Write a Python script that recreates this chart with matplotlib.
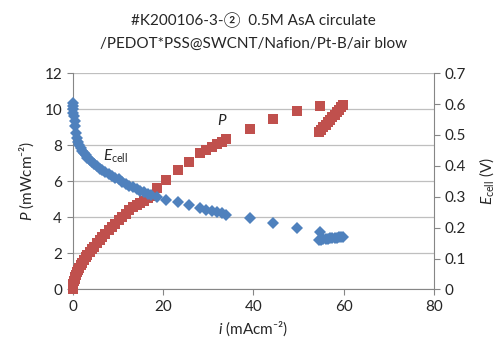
import matplotlib
matplotlib.use("Agg")
import matplotlib.pyplot as plt

plt.rcParams['font.family'] = ['Lato', 'Noto Sans CJK JP', 'DejaVu Sans']
plt.rcParams['mathtext.fontset'] = 'custom'
plt.rcParams['mathtext.rm'] = 'Lato'
plt.rcParams['mathtext.it'] = 'Lato:italic'

# current density (mA cm-2)
i_vals = [0, 0.05, 0.1, 0.2, 0.3, 0.45, 0.6, 0.8, 1.0, 1.25, 1.5, 1.8, 2.1, 2.5,
          2.9, 3.3, 3.8, 4.3, 4.8, 5.4, 6.0, 6.6, 7.3, 8.0, 8.7, 9.4, 10.2, 11.0,
          11.8, 12.6, 13.4, 14.2, 15.0, 15.8, 16.6, 17.4, 18.6, 20.8, 23.4, 25.8,
          28.2, 29.6, 30.8, 31.9, 33.0, 33.9, 39.3, 44.4, 49.7, 54.7,
          54.5, 55.0, 55.5, 56.0, 56.5, 57.0, 57.5, 58.0, 58.5, 59.0, 59.5, 59.8]
# cell voltage (V)
e_cell = [0.605, 0.595, 0.585, 0.572, 0.56, 0.545, 0.53, 0.508, 0.49, 0.477, 0.467,
          0.457, 0.449, 0.441, 0.434, 0.427, 0.419, 0.412, 0.405, 0.398, 0.391,
          0.385, 0.379, 0.373, 0.367, 0.362, 0.356, 0.349, 0.342, 0.336, 0.330,
          0.324, 0.319, 0.314, 0.309, 0.305, 0.300, 0.289, 0.284, 0.273, 0.262,
          0.257, 0.254, 0.251, 0.246, 0.240, 0.230, 0.214, 0.200, 0.187,
          0.160, 0.161, 0.162, 0.163, 0.164, 0.165, 0.166, 0.167, 0.168, 0.169,
          0.170, 0.171]
# power density (mW cm-2)
power = [0.0, 0.1, 0.2, 0.32, 0.44, 0.58, 0.7, 0.82, 0.95, 1.07, 1.2, 1.35, 1.48,
         1.63, 1.78, 1.92, 2.07, 2.22, 2.37, 2.55, 2.72, 2.9, 3.1, 3.28, 3.47,
         3.65, 3.85, 4.03, 4.2, 4.38, 4.55, 4.7, 4.82, 4.93, 5.05, 5.2, 5.61,
         6.07, 6.63, 7.09, 7.56, 7.74, 7.92, 8.07, 8.2, 8.33, 8.9, 9.48, 9.9,
         10.18, 8.72, 8.86, 8.99, 9.13, 9.27, 9.41, 9.55, 9.69, 9.83, 9.97,
         10.12, 10.23]

red = '#C0504D'
blue = '#4F81BD'
grid_c = '#BFBFBF'
spine_c = '#868686'
txt_c = '#262626'
fs = 11

fig = plt.figure(figsize=(5.0, 3.47), dpi=100)
ax = fig.add_axes([0.145, 0.166, 0.723, 0.623])

ax.plot(i_vals, power, 's', color=red, markersize=7.8, markeredgewidth=0,
        zorder=3, clip_on=False)
ax.set_xlim(0, 80)
ax.set_ylim(0, 12)
ax.set_xticks([0, 20, 40, 60, 80])
ax.set_yticks(range(0, 13, 2))
ax.grid(axis='y', color=grid_c, linewidth=0.9)
ax.set_axisbelow(True)
for s in ['top', 'right']:
    ax.spines[s].set_visible(False)
for s in ['left', 'bottom']:
    ax.spines[s].set_color(spine_c)
ax.tick_params(colors=spine_c, labelcolor=txt_c, labelsize=fs, length=4, direction='out')
ax.set_ylabel('$\\mathit{P}$ (mWcm\u207b\u00b2)', fontsize=fs, color=txt_c, labelpad=6)
ax.set_xlabel('$\\mathit{i}$ (mAcm\u207b\u00b2)', fontsize=fs, color=txt_c, labelpad=4)

ax2 = ax.twinx()
ax2.plot(i_vals, e_cell, 'D', color=blue, markersize=6.1, markeredgewidth=0,
         zorder=3, clip_on=False)
ax2.set_ylim(0, 0.7)
ax2.set_yticks([0, 0.1, 0.2, 0.3, 0.4, 0.5, 0.6, 0.7])
ax2.set_yticklabels(['0', '0.1', '0.2', '0.3', '0.4', '0.5', '0.6', '0.7'])
for s in ['top', 'left', 'bottom']:
    ax2.spines[s].set_visible(False)
ax2.spines['right'].set_color(spine_c)
ax2.tick_params(colors=spine_c, labelcolor=txt_c, labelsize=fs, length=4, direction='out')
ax2.set_ylabel(r'$\mathit{E}_{\mathrm{cell}}$ (V)', fontsize=fs, color=txt_c, labelpad=8)

ax.text(9.6, 7.4, r'$\mathit{E}_{\mathrm{cell}}$', fontsize=fs, color=txt_c,
        ha='center', va='center', zorder=5)
ax.text(33.2, 9.4, r'$\mathit{P}$', fontsize=fs, color=txt_c,
        ha='center', va='center', zorder=5)

fig.text(0.507, 0.94, '#K200106-3-\u2461  0.5M AsA circulate', fontsize=fs,
         color=txt_c, ha='center', va='center')
fig.text(0.507, 0.875, '/PEDOT*PSS@SWCNT/Nafion/Pt-B/air blow', fontsize=fs,
         color=txt_c, ha='center', va='center')

fig.savefig('out.png', dpi=100)
